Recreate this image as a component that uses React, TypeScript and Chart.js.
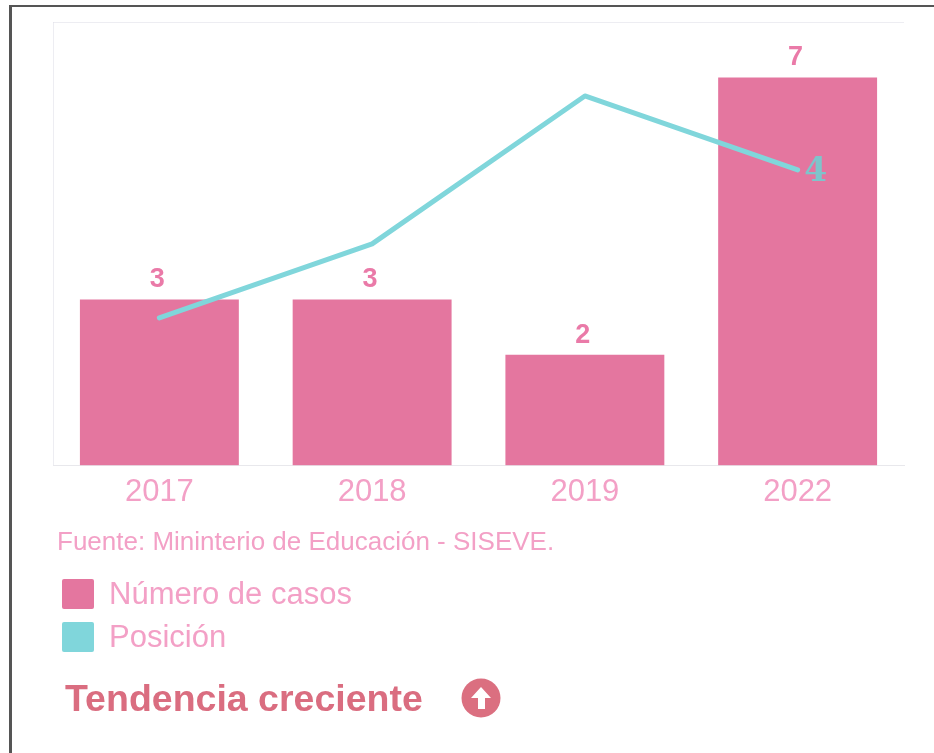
import React, { useEffect, useRef } from "react";
import { Chart, registerables } from "chart.js";

Chart.register(...registerables);

const categories = ["2017", "2018", "2019", "2022"];
const casos = [3, 3, 2, 7];
const posicion = [6, 5, 3, 4];
const casosLabel = "Número de casos";
const posicionLabel = "Posición";
const fuente = "Fuente: Mininterio de Educación - SISEVE.";
const tendencia = "Tendencia creciente";

const PINK = "#e4769f";
const TEAL = "#80d6db";
const TEXT_PINK = "#f3a0c6";
const FAINT = "rgba(222,222,232,0.55)";
const FONT = '"Liberation Sans", Arial, sans-serif';

const valueLabels = {
  id: "valueLabels",
  afterDatasetsDraw(chart: any) {
    const ctx = chart.ctx;
    ctx.save();
    ctx.textAlign = "center";
    ctx.textBaseline = "alphabetic";
    ctx.font = `bold 27px ${FONT}`;
    ctx.fillStyle = "#ea7aa8";
    chart.getDatasetMeta(1).data.forEach((bar: any, i: number) => {
      ctx.fillText(String(casos[i]), bar.x - 2, bar.y - 12);
    });
    const last = chart.getDatasetMeta(0).data[posicion.length - 1];
    ctx.font = `bold 33px "DejaVu Serif", serif`;
    ctx.fillStyle = "#7fc4cb";
    ctx.fillText(String(posicion[posicion.length - 1]), last.x + 18, last.y + 11);
    ctx.restore();
  },
};

const legendItems = [
  { label: casosLabel, color: PINK, top: 578 },
  { label: posicionLabel, color: TEAL, top: 621 },
];

export default function App() {
  const ref = useRef<HTMLCanvasElement>(null);
  useEffect(() => {
    document.body.style.margin = "0";
    document.body.style.background = "#ffffff";
    const chart = new Chart(ref.current!, {
      type: "bar",
      data: {
        labels: categories,
        datasets: [
          {
            type: "line",
            label: posicionLabel,
            data: posicion,
            yAxisID: "y2",
            borderColor: TEAL,
            backgroundColor: TEAL,
            borderWidth: 5,
            borderCapStyle: "round",
            borderJoinStyle: "round",
            pointRadius: 0,
            tension: 0,
            order: 0,
          },
          {
            type: "bar",
            label: casosLabel,
            data: casos,
            yAxisID: "y",
            backgroundColor: PINK,
            categoryPercentage: 0.747,
            barPercentage: 1,
            order: 1,
          },
        ],
      } as any,
      plugins: [valueLabels],
      options: {
        responsive: false,
        animation: false,
        layout: { padding: { left: 53, right: 30, top: 22, bottom: 0 } },
        plugins: { legend: { display: false }, tooltip: { enabled: false } },
        scales: {
          x: {
            grid: {
              display: true,
              drawTicks: false,
              color: (c: any) => (c.index === 0 || c.index === categories.length ? FAINT : "rgba(0,0,0,0)"),
            },
            border: { color: "#e8e8ec" },
            ticks: {
              color: TEXT_PINK,
              font: { size: 31, family: FONT },
              padding: 8,
              maxRotation: 0,
            },
          },
          y: {
            min: 0,
            max: 8,
            display: true,
            grid: {
              drawTicks: false,
              color: (c: any) => (c.tick && c.tick.value === 8 ? FAINT : "rgba(0,0,0,0)"),
            },
            border: { display: false },
            ticks: { display: false, stepSize: 1 },
            afterFit: (s: any) => { s.width = 0; },
          },
          y2: {
            min: 2,
            max: 8,
            reverse: true,
            display: false,
            position: "right",
          },
        },
      } as any,
    });
    return () => chart.destroy();
  }, []);

  return (
    <div style={{ position: "relative", width: 934, height: 753, overflow: "hidden", background: "#fff", fontFamily: FONT }}>
      <canvas ref={ref} width={934} height={519} style={{ position: "absolute", left: 0, top: 0, display: "block" }} />
      <div style={{ position: "absolute", left: 9, top: 5, right: 0, bottom: 0, borderTop: "2px solid #555", borderLeft: "3px solid #555" }} />
      <div style={{ position: "absolute", left: 57, top: 527, fontSize: 26, lineHeight: "28px", color: TEXT_PINK, whiteSpace: "nowrap" }}>{fuente}</div>
      {legendItems.map((it) => (
        <div key={it.label} style={{ position: "absolute", left: 62, top: it.top, height: 32, display: "flex", alignItems: "center", whiteSpace: "nowrap" }}>
          <span style={{ width: 32, height: 30, background: it.color, display: "inline-block", borderRadius: 2 }} />
          <span style={{ marginLeft: 15, fontSize: 31, color: TEXT_PINK }}>{it.label}</span>
        </div>
      ))}
      <div style={{ position: "absolute", left: 65, top: 678, fontSize: 37.5, lineHeight: "40px", fontWeight: "bold", color: "#da6d80", whiteSpace: "nowrap" }}>{tendencia}</div>
      <svg style={{ position: "absolute", left: 461, top: 678 }} width="40" height="40" viewBox="0 0 40 40">
        <circle cx="20" cy="20" r="19.5" fill="#db6f80" />
        <path d="M20 9 L30 20 L24 20 L24 31 L17 31 L17 20 L10 20 Z" fill="#fff" />
      </svg>
    </div>
  );
}
